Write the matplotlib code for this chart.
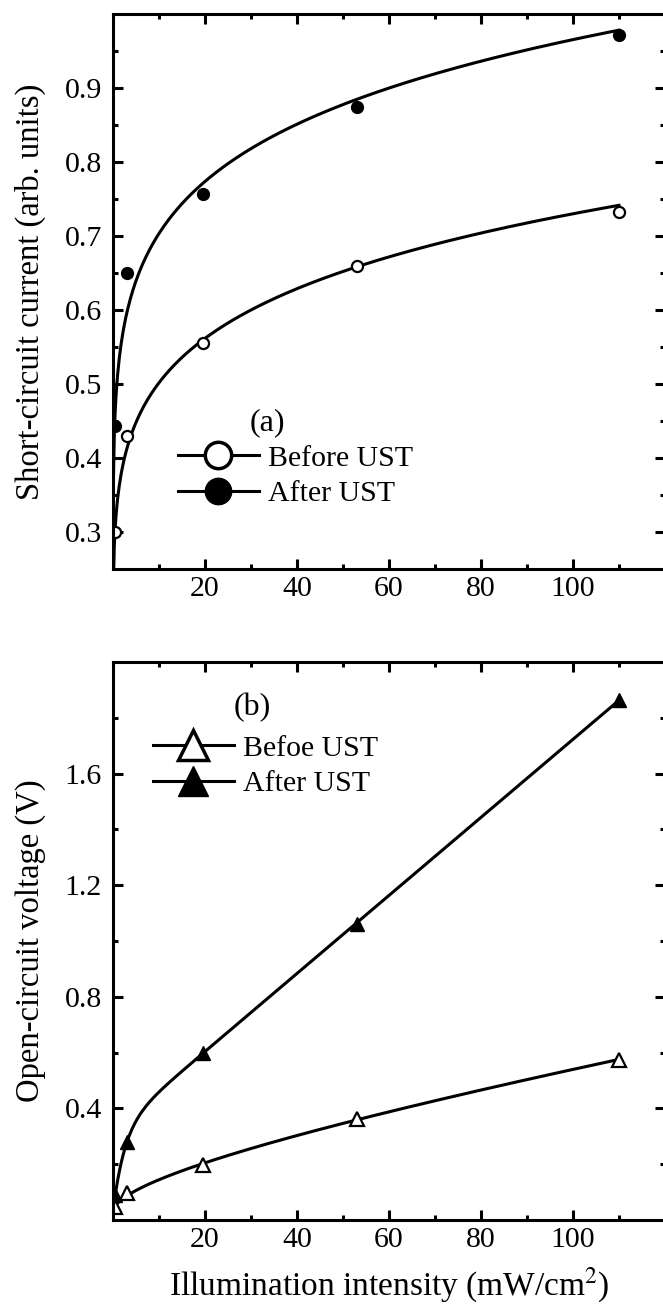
import numpy as np
import matplotlib
matplotlib.use("Agg")
import matplotlib.pyplot as plt
from matplotlib.lines import Line2D
from matplotlib.ticker import FixedLocator

plt.rcParams["font.family"] = ["Liberation Serif", "DejaVu Serif"]
plt.rcParams["mathtext.fontset"] = "stix"

intensity = [0.5, 3.0, 19.6, 53.0, 110.0]          # mW/cm^2
isc_before = [0.300, 0.430, 0.556, 0.660, 0.733]
isc_after = [0.443, 0.650, 0.757, 0.875, 0.972]
voc_before = [0.045, 0.096, 0.196, 0.362, 0.575]
voc_after = [0.090, 0.280, 0.600, 1.060, 1.865]

x_major = [20, 40, 60, 80, 100]
x_minor = [10, 30, 50, 70, 90, 110]
isc_major = [0.3, 0.4, 0.5, 0.6, 0.7, 0.8, 0.9]
isc_minor = [0.35, 0.45, 0.55, 0.65, 0.75, 0.85, 0.95]
voc_major = [0.4, 0.8, 1.2, 1.6]
voc_minor = [0.2, 0.6, 1.0, 1.4, 1.8]

FS_TICK = 21.5
FS_LEG = 21.5
FS_LAB = 23.5
LW = 2.2
W, H = 663, 1304


def power_fit(x, y, xs):
    b, lna = np.polyfit(np.log(x), np.log(y), 1)
    return np.exp(lna) * xs ** b


def basis_fit(x, y, xs, funcs):
    x = np.asarray(x)
    A = np.column_stack([f(x) for f in funcs])
    coef, *_ = np.linalg.lstsq(A, np.asarray(y), rcond=None)
    return sum(c * f(xs) for c, f in zip(coef, funcs))


def style_axes(ax, ymaj, ymin):
    ax.set_xlim(0, 120)
    ax.xaxis.set_major_locator(FixedLocator(x_major))
    ax.xaxis.set_minor_locator(FixedLocator(x_minor))
    ax.yaxis.set_major_locator(FixedLocator(ymaj))
    ax.yaxis.set_minor_locator(FixedLocator(ymin))
    ax.tick_params(which="both", direction="in", top=True, right=True,
                   width=LW, labelsize=FS_TICK)
    ax.tick_params(which="major", length=7)
    ax.tick_params(which="minor", length=3.5)
    ax.tick_params(axis="y", pad=8)
    ax.tick_params(axis="x", pad=5)
    for sp in ax.spines.values():
        sp.set_linewidth(LW)


fig = plt.figure(figsize=(W / 100, H / 100), dpi=100)
left, width = 113 / W, 552 / W
ax1 = fig.add_axes([left, 1 - 569 / H, width, 555 / H])
ax2 = fig.add_axes([left, 1 - 1220 / H, width, 558 / H])

# (a) short-circuit current
xs = np.linspace(0.1, 110, 600)
ax1.plot(xs, power_fit(intensity, isc_before, xs), color="k", lw=LW)
ax1.plot(xs, power_fit(intensity, isc_after, xs), color="k", lw=LW)
ax1.plot(intensity, isc_before, "o", ms=8, mfc="white", mec="k", mew=1.6)
ax1.plot(intensity, isc_after, "o", ms=8.5, mfc="k", mec="k")
ax1.set_ylim(0.25, 1.0)
style_axes(ax1, isc_major, isc_minor)
ax1.set_ylabel("Short-circuit current (arb. units)", fontsize=FS_LAB)
ax1.yaxis.set_label_coords(-0.149, 0.5)
ax1.yaxis.label.set_va("center")

h_a = [Line2D([], [], color="k", lw=LW, marker="o", ms=19, mfc="white",
              mec="k", mew=2.5),
       Line2D([], [], color="k", lw=LW, marker="o", ms=19, mfc="k", mec="k")]
ax1.legend(h_a, ["Before UST", "After UST"], loc="center left",
           bbox_to_anchor=(178 / W, 1 - 476 / H),
           bbox_transform=fig.transFigure, frameon=False, fontsize=FS_LEG,
           handlelength=2.7, handletextpad=0.3, labelspacing=0.3,
           borderpad=0, borderaxespad=0)
fig.text(267 / W, 1 - 423 / H, "(a)", fontsize=23, ha="center", va="center")

# (b) open-circuit voltage
xs2 = np.linspace(0.3, 110, 600)
lin_sqrt = [np.ones_like, lambda v: v, np.sqrt]
lin_exp = [np.ones_like, lambda v: v, lambda v: np.exp(-v / 2.5)]
ax2.plot(xs2, basis_fit(intensity, voc_before, xs2, lin_sqrt), color="k", lw=LW)
ax2.plot(xs2, basis_fit(intensity, voc_after, xs2, lin_exp), color="k", lw=LW)
ax2.plot(intensity, voc_before, "^", ms=10, mfc="white", mec="k", mew=1.6)
ax2.plot(intensity, voc_after, "^", ms=10, mfc="k", mec="k")
ax2.set_ylim(0.0, 2.0)
style_axes(ax2, voc_major, voc_minor)
ax2.set_ylabel("Open-circuit voltage (V)", fontsize=FS_LAB)
ax2.yaxis.set_label_coords(-0.149, 0.5)
ax2.yaxis.label.set_va("center")
ax2.set_xlabel("Illumination intensity (mW/cm$^2$)", fontsize=24)
ax2.xaxis.set_label_coords(0.5, -0.1165)
ax2.xaxis.label.set_va("center")

h_b = [Line2D([], [], color="k", lw=LW, marker="^", ms=22, mfc="white",
              mec="k", mew=2.5),
       Line2D([], [], color="k", lw=LW, marker="^", ms=22, mfc="k", mec="k")]
ax2.legend(h_b, ["Befoe UST", "After UST"], loc="center left",
           bbox_to_anchor=(153 / W, 1 - 766 / H),
           bbox_transform=fig.transFigure, frameon=False, fontsize=FS_LEG,
           handlelength=2.7, handletextpad=0.3, labelspacing=0.3,
           borderpad=0, borderaxespad=0)
fig.text(252 / W, 1 - 708 / H, "(b)", fontsize=23, ha="center", va="center")

fig.savefig("out.png", dpi=100)
